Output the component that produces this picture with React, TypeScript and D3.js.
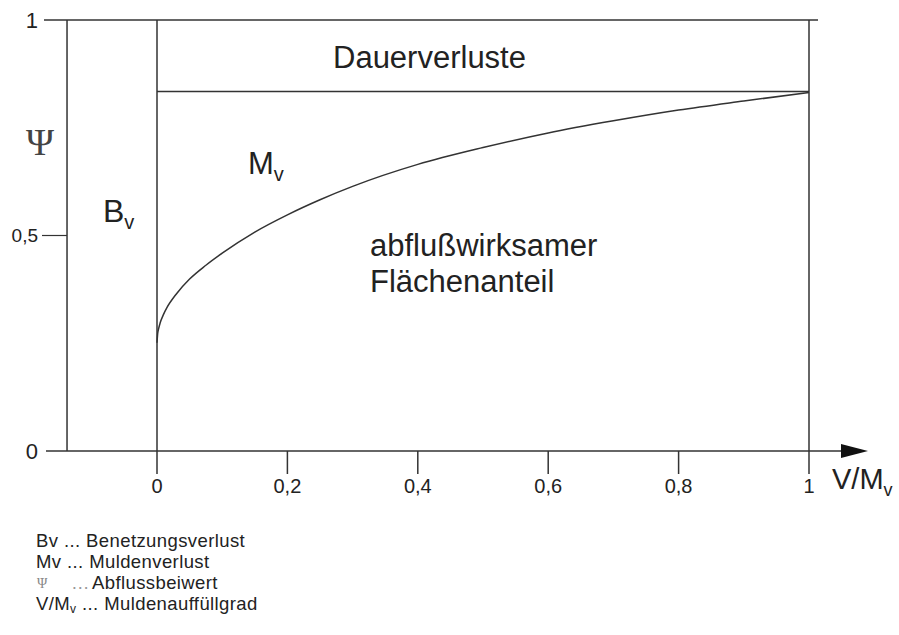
import React from "react";
import * as d3 from "d3";

// ---- data ----
const curveX = [0, 0.001, 0.0025, 0.005, 0.01, 0.015, 0.03, 0.05, 0.075, 0.1, 0.15, 0.2, 0.25, 0.3, 0.4, 0.5, 0.6, 0.7, 0.8, 0.9, 1.0];
const curveY = [0.251, 0.272, 0.284, 0.298, 0.317, 0.332, 0.365, 0.399, 0.431, 0.459, 0.508, 0.548, 0.583, 0.614, 0.665, 0.704, 0.738, 0.766, 0.791, 0.812, 0.832];
const dauerLevel = 0.834;
const bvStart = -0.138;
const xTicks = [0, 0.2, 0.4, 0.6, 0.8, 1];
const xTickLabels = ["0", "0,2", "0,4", "0,6", "0,8", "1"];
const yTicks = [0, 0.5, 1];
const yTickLabels = ["0", "0,5", "1"];
const legendSymbols = ["Bv", "Mv", "Ψ", "V/M"];
const legendTexts = ["Benetzungsverlust", "Muldenverlust", "Abflussbeiwert", "Muldenauffüllgrad"];

const W = 899;
const H = 635;
const FONT = "'Liberation Sans', Arial, sans-serif";
const INK = "#222";
const LINE = "#333";

export default function App() {
  const x = d3.scaleLinear().domain([0, 1]).range([157, 809]);
  const y = d3.scaleLinear().domain([0, 1]).range([451, 20]);
  const pts: [number, number][] = curveX.map((v, i) => [v, curveY[i]]);
  const line = d3
    .line<[number, number]>()
    .x((d) => x(d[0]))
    .y((d) => y(d[1]))
    .curve(d3.curveMonotoneX);

  const xl = x(bvStart);
  const y0 = y(0);
  const y1 = y(1);
  const tickEnd = y0 + 23;

  const legX = 36;
  const legY0 = 547;
  const legDy = 21;
  const legFs = 18.5;
  const legLs = 0.4;

  return (
    <svg
      width={W}
      height={H}
      style={{ position: "absolute", left: 0, top: 0, background: "#fff" }}
      fontFamily={FONT}
    >
      <rect width={W} height={H} fill="#fff" />
      {/* frame */}
      <line x1={44} x2={818} y1={y1} y2={y1} stroke={LINE} strokeWidth={1.5} />
      <line x1={xl} x2={xl} y1={y1} y2={y0} stroke={LINE} strokeWidth={1.5} />
      <line x1={42} x2={xl} y1={y(0.5)} y2={y(0.5)} stroke={LINE} strokeWidth={1.2} />
      <line x1={46} x2={845} y1={y0} y2={y0} stroke={LINE} strokeWidth={1.5} />
      <path d={`M${x(1) + 32},${y0 - 7} L${x(1) + 59},${y0} L${x(1) + 32},${y0 + 7} Z`} fill="#111" />
      {xTicks.map((t) => (
        <line
          key={t}
          x1={x(t)}
          x2={x(t)}
          y1={t === 0 || t === 1 ? y1 : y0}
          y2={tickEnd}
          stroke={LINE}
          strokeWidth={1.5}
        />
      ))}
      <line x1={x(0)} x2={x(1)} y1={y(dauerLevel)} y2={y(dauerLevel)} stroke={LINE} strokeWidth={1.5} />
      <path d={line(pts) || ""} fill="none" stroke={LINE} strokeWidth={1.5} />

      {/* tick labels */}
      {xTicks.map((t, i) => (
        <text key={t} x={x(t)} y={493} textAnchor="middle" fontSize={20} fill={INK}>
          {xTickLabels[i]}
        </text>
      ))}
      {yTicks.map((t, i) => (
        <text
          key={t}
          x={38}
          y={y(t) + (t === 0.5 ? 6 : 8)}
          textAnchor="end"
          fontSize={t === 0.5 ? 19 : 22}
          fill={INK}
        >
          {yTickLabels[i]}
        </text>
      ))}

      {/* axis titles */}
      <text x={832} y={489} fontSize={29} fill={INK}>
        V/M<tspan fontSize={18} dy={7}>v</tspan>
      </text>
      <text x={40} y={155} textAnchor="middle" fontSize={38} fontFamily="'Liberation Serif', serif" fill="#444">
        Ψ
      </text>

      {/* region labels */}
      <text x={103} y={222} fontSize={32} fill={INK}>
        B<tspan fontSize={20} dy={7}>v</tspan>
      </text>
      <text x={248} y={174} fontSize={31} fill={INK}>
        M<tspan fontSize={20} dy={7}>v</tspan>
      </text>
      <text x={333} y={68} fontSize={31} fill={INK}>
        Dauerverluste
      </text>
      <text x={370} y={256} fontSize={31} fill={INK}>
        abflußwirksamer
      </text>
      <text x={370} y={292} fontSize={31} fill={INK}>
        Flächenanteil
      </text>

      {/* legend */}
      {legendSymbols.map((s, i) => {
        const by = legY0 + i * legDy;
        if (s === "Ψ") {
          return (
            <g key={i}>
              <text x={legX + 1} y={by - 1} fontSize={14} fontFamily="'Liberation Serif', serif" fill="#888">
                Ψ
              </text>
              <text x={71} y={by} fontSize={legFs} fill="#999">
                …
              </text>
              <text x={92} y={by} fontSize={legFs} letterSpacing={legLs} fill={INK}>
                {legendTexts[i]}
              </text>
            </g>
          );
        }
        if (s === "V/M") {
          return (
            <text key={i} x={legX} y={by} fontSize={legFs} letterSpacing={legLs} fill={INK} xmlSpace="preserve">
              V/M<tspan fontSize={12} dy={3}>v</tspan>
              <tspan dy={-3}>{" ... " + legendTexts[i]}</tspan>
            </text>
          );
        }
        return (
          <text key={i} x={legX} y={by} fontSize={legFs} letterSpacing={legLs} fill={INK} xmlSpace="preserve">
            {s + " ... " + legendTexts[i]}
          </text>
        );
      })}
    </svg>
  );
}
